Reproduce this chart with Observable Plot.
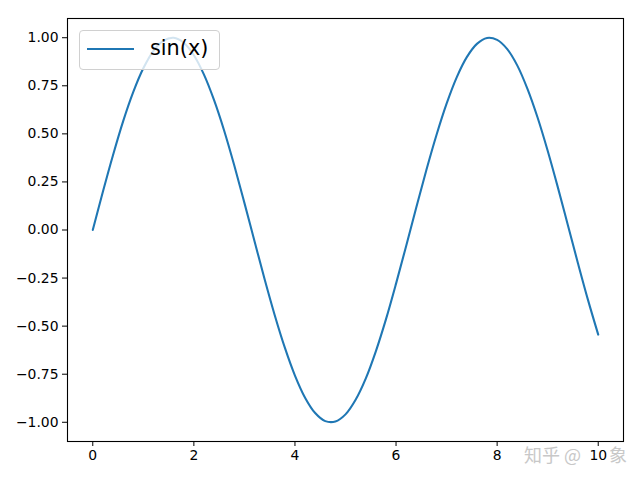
<!DOCTYPE html>
<html>
<head>
<meta charset="utf-8">
<script src="https://cdn.jsdelivr.net/npm/d3@7"></script>
<script src="https://cdn.jsdelivr.net/npm/@observablehq/plot@0.6"></script>
<style>
  html, body { margin: 0; padding: 0; background: white; }
  #wrap { position: relative; width: 640px; height: 480px; }
  .wm { position: absolute; top: 441px; font: 18px "Noto Sans CJK SC", sans-serif; color: #c8c8c8; white-space: nowrap; z-index: 0; }
  #chart { position: absolute; left: 0; top: 0; z-index: 1; }
  #legend { position: absolute; left: 79px; top: 30px; width: 141px; height: 40px; background: rgba(255,255,255,0.8); border: 1px solid #d0d0d0; border-radius: 4px; z-index: 2; box-sizing: border-box; }
  #legend .swatch { position: absolute; left: 7px; top: 17px; width: 47px; height: 2px; background: #1f77b4; }
  #legend .label { position: absolute; left: 70px; top: 5px; font: 20.8px "DejaVu Sans", sans-serif; color: black; line-height: 1.2; }
</style>
</head>
<body>
<div id="wrap">
  <div class="wm" style="left:524px">知乎 @</div>
  <div class="wm" style="left:609px">象</div>
  <div id="chart"></div>
  <div id="legend"><div class="swatch"></div><div class="label">sin(x)</div></div>
</div>
<script>
const xValues = [0, 0.2, 0.4, 0.6, 0.8, 1.0, 1.2, 1.4, 1.6, 1.8, 2.0, 2.2, 2.4, 2.6, 2.8, 3.0, 3.2, 3.4, 3.6, 3.8, 4.0, 4.2, 4.4, 4.6, 4.8, 5.0, 5.2, 5.4, 5.6, 5.8, 6.0, 6.2, 6.4, 6.6, 6.8, 7.0, 7.2, 7.4, 7.6, 7.8, 8.0, 8.2, 8.4, 8.6, 8.8, 9.0, 9.2, 9.4, 9.6, 9.8, 10.0];
const yValues = [0.000, 0.199, 0.389, 0.565, 0.717, 0.841, 0.932, 0.985, 1.000, 0.974, 0.909, 0.808, 0.675, 0.516, 0.335, 0.141, -0.058, -0.256, -0.443, -0.612, -0.757, -0.872, -0.952, -0.994, -0.996, -0.959, -0.883, -0.773, -0.631, -0.465, -0.279, -0.083, 0.117, 0.312, 0.494, 0.657, 0.794, 0.899, 0.968, 0.999, 0.989, 0.941, 0.855, 0.734, 0.585, 0.412, 0.223, 0.025, -0.174, -0.366, -0.544];
const xTicks = [0, 2, 4, 6, 8, 10];
const yTicks = [-1.00, -0.75, -0.50, -0.25, 0.00, 0.25, 0.50, 0.75, 1.00];
const seriesName = "sin(x)";

const data = xValues.map((x, i) => ({x, y: yValues[i]}));

const chart = Plot.plot({
  width: 640,
  height: 480,
  marginLeft: 67,
  marginRight: 17,
  marginTop: 18,
  marginBottom: 39,
  style: {background: "transparent", fontFamily: "DejaVu Sans", fontSize: "13.9px", color: "black"},
  x: {domain: [-0.5, 10.5]},
  y: {domain: [-1.1, 1.1]},
  marks: [
    Plot.line(data, {x: "x", y: "y", stroke: "#1f77b4", strokeWidth: 2.08, curve: "catmull-rom"}),
    Plot.frame({stroke: "black", strokeWidth: 1.1}),
    Plot.axisX({ticks: xTicks, tickSize: 5, tickPadding: 4, tickFormat: d3.format("d"), label: null, fontSize: 13.9, stroke: "black"}),
    Plot.axisY({ticks: yTicks, tickSize: 5, tickPadding: 4, tickFormat: d3.format(".2f"), label: null, fontSize: 13.9, stroke: "black"})
  ]
});
document.getElementById("chart").appendChild(chart);
</script>
</body>
</html>
